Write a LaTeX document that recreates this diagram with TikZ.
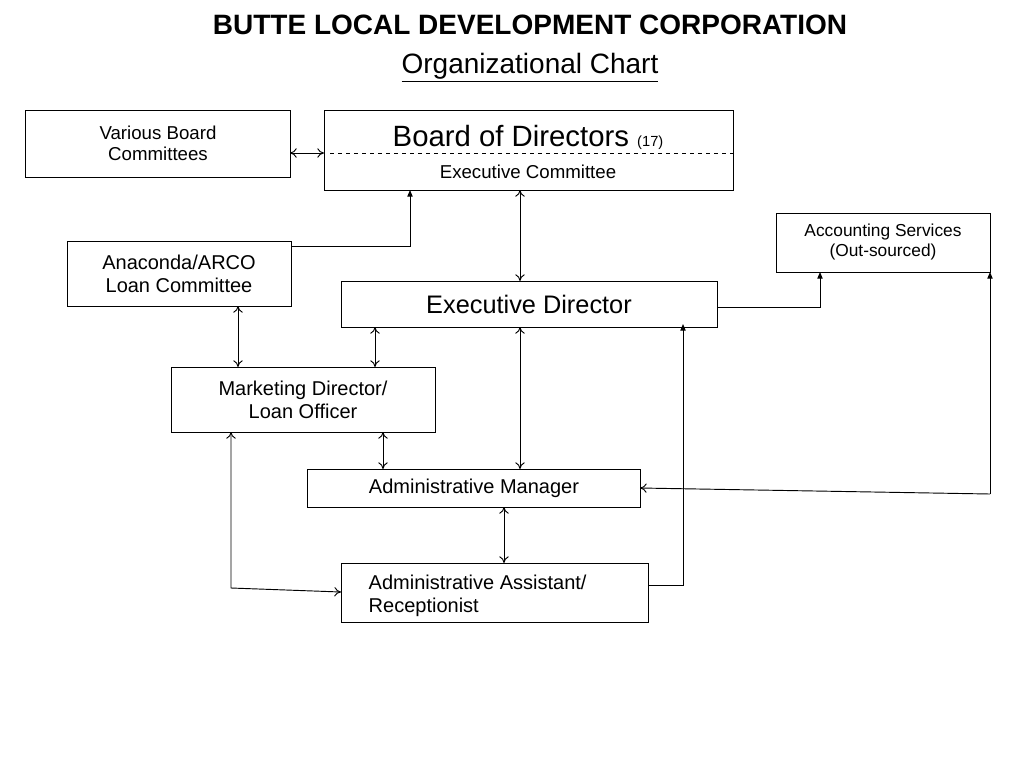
\documentclass[tikz,border=0pt]{standalone}
\usepackage{fontspec}
\setmainfont{Liberation Sans}
\usetikzlibrary{arrows.meta}
\begin{document}
\begin{tikzpicture}[x=0.75pt,y=-0.75pt,
  box/.style={draw,line width=0.6pt,anchor=north west,inner sep=0pt},
  ln/.style={line width=0.7pt},
  dbl/.style={ln,{To[length=5pt,width=7pt]}-{To[length=5pt,width=7pt]}},
  fil/.style={ln,-{Triangle[length=5pt,width=4pt]}},
  opn/.style={ln,-{To[length=5pt,width=7pt]}}]
\useasboundingbox (0,0) rectangle (1024,768);
\node[font=\bfseries\fontsize{21}{24}\selectfont] (t1) at (530,25) {BUTTE LOCAL DEVELOPMENT CORPORATION};
\node[font=\fontsize{21}{24}\selectfont] (t2) at (530,68) {\underline{Organizational Chart}};
\node[box,minimum width=265*0.75pt,minimum height=67*0.75pt] (vbc) at (25,110) {};
\node[align=center,font=\fontsize{14}{16}\selectfont] (vbct) at (158,143) {Various Board\\Committees};
\node[box,minimum width=409*0.75pt,minimum height=80*0.75pt] (bod) at (324,110) {};
\node[font=\fontsize{22}{24}\selectfont] (bodt) at (528,137) {Board of Directors {\fontsize{11}{12}\selectfont (17)}};
\node[font=\fontsize{14}{16}\selectfont] (exc) at (528,172) {Executive Committee};
\draw[dashed,line width=0.5pt] (330,153) -- (733,153);
\node[box,minimum width=214*0.75pt,minimum height=59*0.75pt] (acc) at (776,213) {};
\node[align=center,font=\fontsize{13}{15}\selectfont] (acct) at (883,242) {Accounting Services\\(Out-sourced)};
\node[box,minimum width=224*0.75pt,minimum height=65*0.75pt] (ana) at (67,241) {};
\node[align=center,font=\fontsize{15}{17}\selectfont] (anat) at (179,274) {Anaconda/ARCO\\Loan Committee};
\node[box,minimum width=376*0.75pt,minimum height=46*0.75pt] (ed) at (341,281) {};
\node[font=\fontsize{19}{21}\selectfont] (edt) at (529,304) {Executive Director};
\node[box,minimum width=264*0.75pt,minimum height=65*0.75pt] (mkt) at (171,367) {};
\node[align=center,font=\fontsize{15}{17}\selectfont] (mktt) at (303,400) {Marketing Director/\\Loan Officer};
\node[box,minimum width=333*0.75pt,minimum height=38*0.75pt] (am) at (307,469) {};
\node[font=\fontsize{15}{17}\selectfont] (amt) at (474,488) {Administrative Manager};
\node[box,minimum width=307*0.75pt,minimum height=59*0.75pt] (aa) at (341,563) {};
\node[align=left,font=\fontsize{15}{17}\selectfont,anchor=west] (aat) at (364,596) {Administrative Assistant/\\Receptionist};
\coordinate (c1) at (410,246);
\coordinate (c2) at (820,307);
\coordinate (c3) at (231,588);
\coordinate (c4) at (683,585);
\coordinate (c5) at (990,494);
\draw[dbl] (290,153) -- (324,153);
\draw[fil] (291,246) -- (c1) -- (410,190);
\draw[dbl] (520,190) -- (520,281);
\draw[fil] (717,307) -- (c2) -- (820,272);
\draw[dbl] (238,306) -- (238,367);
\draw[dbl] (375,327) -- (375,367);
\draw[dbl] (383,432) -- (383,469);
\draw[dbl] (520,327) -- (520,469);
\draw[dbl] (504,507) -- (504,563);
\draw[dbl] (231,432) -- (c3) -- (341,592);
\draw[fil] (648,585) -- (c4) -- (683,324);
\draw[fil] (c5) -- (990,272);
\draw[opn] (c5) -- (640,488);
\end{tikzpicture}
\end{document}
